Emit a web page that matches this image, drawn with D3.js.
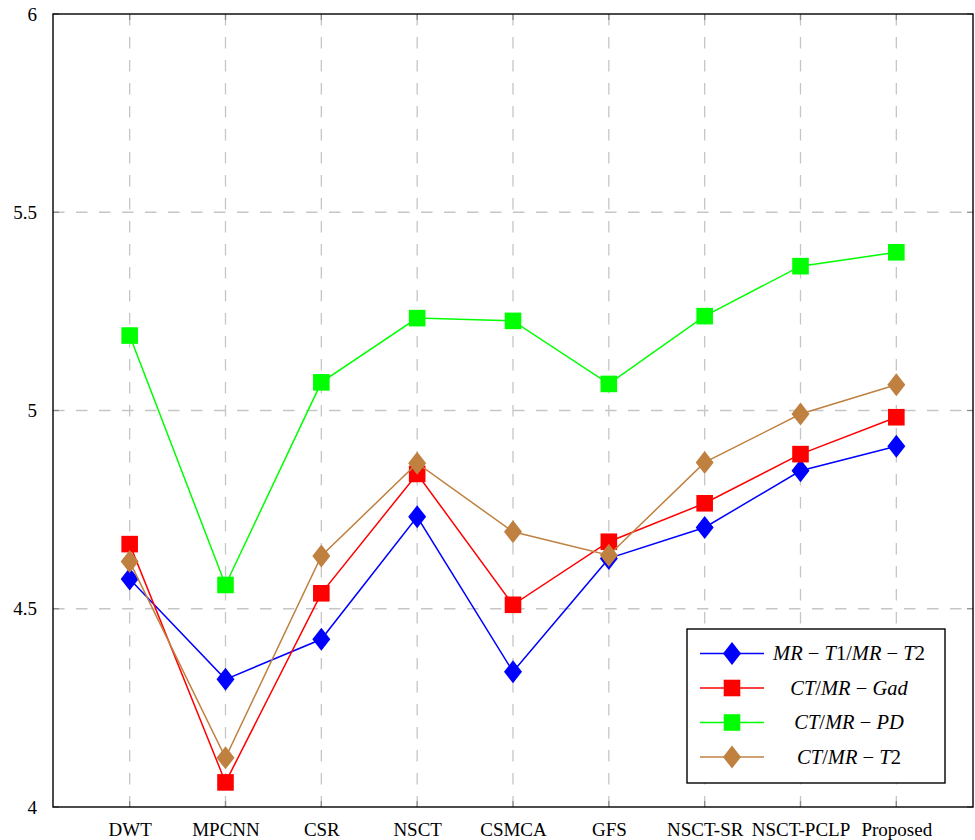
<!DOCTYPE html>
<html>
<head>
<meta charset="utf-8">
<script src="https://cdn.jsdelivr.net/npm/d3@7"></script>
<style>
  html, body { margin: 0; padding: 0; background: #fff; }
  svg { display: block; }
  text { font-family: "Liberation Serif", "Times New Roman", serif; white-space: pre; }
</style>
</head>
<body>
<svg id="chart" width="975" height="840"></svg>
<script>
// Fusion methods along the x axis
const categories = ["DWT", "MPCNN", "CSR", "NSCT", "CSMCA", "GFS", "NSCT-SR", "NSCT-PCLP", "Proposed"];

// Metric values per image pair
const mrT1T2 = [4.575, 4.322, 4.423, 4.732, 4.341, 4.627, 4.705, 4.848, 4.910];
const ctMrGad = [4.663, 4.062, 4.539, 4.840, 4.510, 4.669, 4.766, 4.890, 4.983];
const ctMrPd  = [5.189, 4.560, 5.071, 5.233, 5.226, 5.067, 5.238, 5.364, 5.399];
const ctMrT2  = [4.619, 4.124, 4.633, 4.867, 4.694, 4.635, 4.869, 4.991, 5.065];

const yTicks = [4, 4.5, 5, 5.5, 6];
const yTickLabels = ["4", "4.5", "5", "5.5", "6"];

// Legend labels: pieces rendered italic (letters) or upright (digits, operators)
const legendLabels = [
  [["MR", 1], [" \u2212 ", 0], ["T", 1], ["1/", 0], ["MR", 1], [" \u2212 ", 0], ["T", 1], ["2", 0]],
  [["CT", 1], ["/", 0], ["MR", 1], [" \u2212 ", 0], ["Gad", 1]],
  [["CT", 1], ["/", 0], ["MR", 1], [" \u2212 ", 0], ["PD", 1]],
  [["CT", 1], ["/", 0], ["MR", 1], [" \u2212 ", 0], ["T", 1], ["2", 0]]
];

const series = [
  { values: mrT1T2, color: "#0000ff", marker: "diamond", label: legendLabels[0] },
  { values: ctMrGad, color: "#ff0000", marker: "square", label: legendLabels[1] },
  { values: ctMrPd,  color: "#00ff00", marker: "square", label: legendLabels[2] },
  { values: ctMrT2,  color: "#bf8040", marker: "diamond", label: legendLabels[3] }
];

const plotLeft = 53, plotRight = 973, plotTop = 14, plotBottom = 807;
const svg = d3.select("#chart");

const x = d3.scaleLinear().domain([0.2, categories.length + 0.8]).range([plotLeft, plotRight]);
const y = d3.scaleLinear().domain([4, 6]).range([plotBottom, plotTop]);
const xPositions = categories.map((d, i) => i + 1);

// Dashed grid
const grid = svg.append("g").attr("stroke", "#c6c6c6").attr("stroke-width", 1.3)
  .attr("stroke-dasharray", "11.5,11.5");
grid.selectAll("line.v").data(xPositions).join("line").attr("class", "v")
  .attr("x1", d => x(d)).attr("x2", d => x(d))
  .attr("y1", plotTop).attr("y2", plotBottom);
grid.selectAll("line.h").data(yTicks.slice(1, -1)).join("line").attr("class", "h")
  .attr("x1", plotLeft).attr("x2", plotRight)
  .attr("y1", d => y(d)).attr("y2", d => y(d));

// Short inward tick marks on all four sides
const tickLen = 6;
const ticks = svg.append("g").attr("stroke", "#8c8c8c").attr("stroke-width", 1.3);
xPositions.forEach(v => {
  ticks.append("line").attr("x1", x(v)).attr("x2", x(v)).attr("y1", plotBottom).attr("y2", plotBottom - tickLen);
  ticks.append("line").attr("x1", x(v)).attr("x2", x(v)).attr("y1", plotTop).attr("y2", plotTop + tickLen);
});
yTicks.forEach(v => {
  ticks.append("line").attr("x1", plotLeft).attr("x2", plotLeft + tickLen).attr("y1", y(v)).attr("y2", y(v));
  ticks.append("line").attr("x1", plotRight).attr("x2", plotRight - tickLen).attr("y1", y(v)).attr("y2", y(v));
});

// Axes (labels only; frame drawn separately)
const xAxis = d3.axisBottom(x)
  .tickValues(xPositions)
  .tickFormat((d, i) => categories[i])
  .tickSize(0).tickPadding(0);
const gx = svg.append("g").attr("transform", `translate(0,${plotBottom})`).call(xAxis);
gx.select(".domain").remove();
gx.selectAll("text").attr("font-size", 19).attr("fill", "#000")
  .attr("font-family", "Liberation Serif, serif")
  .attr("dy", null).attr("y", 29);

const yAxis = d3.axisLeft(y).tickValues(yTicks)
  .tickFormat((d, i) => yTickLabels[i]).tickSize(0).tickPadding(0);
const gy = svg.append("g").attr("transform", "translate(37,0)").call(yAxis);
gy.select(".domain").remove();
gy.selectAll("text").attr("font-size", 19).attr("fill", "#000")
  .attr("font-family", "Liberation Serif, serif")
  .attr("dy", "0.32em");

// Plot frame
svg.append("rect").attr("x", plotLeft).attr("y", plotTop)
  .attr("width", plotRight - plotLeft).attr("height", plotBottom - plotTop)
  .attr("fill", "none").attr("stroke", "#000").attr("stroke-width", 1.4);

// Marker shapes
function markerPath(type, cx, cy) {
  if (type === "square") {
    const h = 8.3;
    return `M${cx - h},${cy - h}H${cx + h}V${cy + h}H${cx - h}Z`;
  }
  const w = 9, hh = 11.5;
  return `M${cx},${cy - hh}L${cx + w},${cy}L${cx},${cy + hh}L${cx - w},${cy}Z`;
}

const line = d3.line().x((d, i) => x(i + 1)).y(d => y(d));

series.forEach(s => {
  const g = svg.append("g");
  g.append("path").datum(s.values).attr("d", line)
    .attr("fill", "none").attr("stroke", s.color).attr("stroke-width", 1.5);
  g.selectAll("path.m").data(s.values).join("path")
    .attr("class", "m")
    .attr("d", (d, i) => markerPath(s.marker, x(i + 1), y(d)))
    .attr("fill", s.color);
});

// Legend
const lg = svg.append("g");
lg.append("rect").attr("x", 687).attr("y", 629).attr("width", 258).attr("height", 154)
  .attr("fill", "#fff").attr("stroke", "#000").attr("stroke-width", 1.4);
const rowY = [653.5, 688, 722.5, 757];
series.forEach((s, i) => {
  const cy = rowY[i];
  lg.append("line").attr("x1", 700).attr("x2", 764).attr("y1", cy).attr("y2", cy)
    .attr("stroke", s.color).attr("stroke-width", 1.5);
  lg.append("path").attr("d", markerPath(s.marker, 732, cy)).attr("fill", s.color);
  const t = lg.append("text").attr("x", 849).attr("y", cy).attr("dy", "0.33em")
    .attr("text-anchor", "middle").attr("font-size", 20.5).attr("fill", "#000");
  s.label.forEach(([txt, it]) => {
    t.append("tspan").text(txt).attr("font-style", it ? "italic" : "normal");
  });
});
</script>
</body>
</html>
